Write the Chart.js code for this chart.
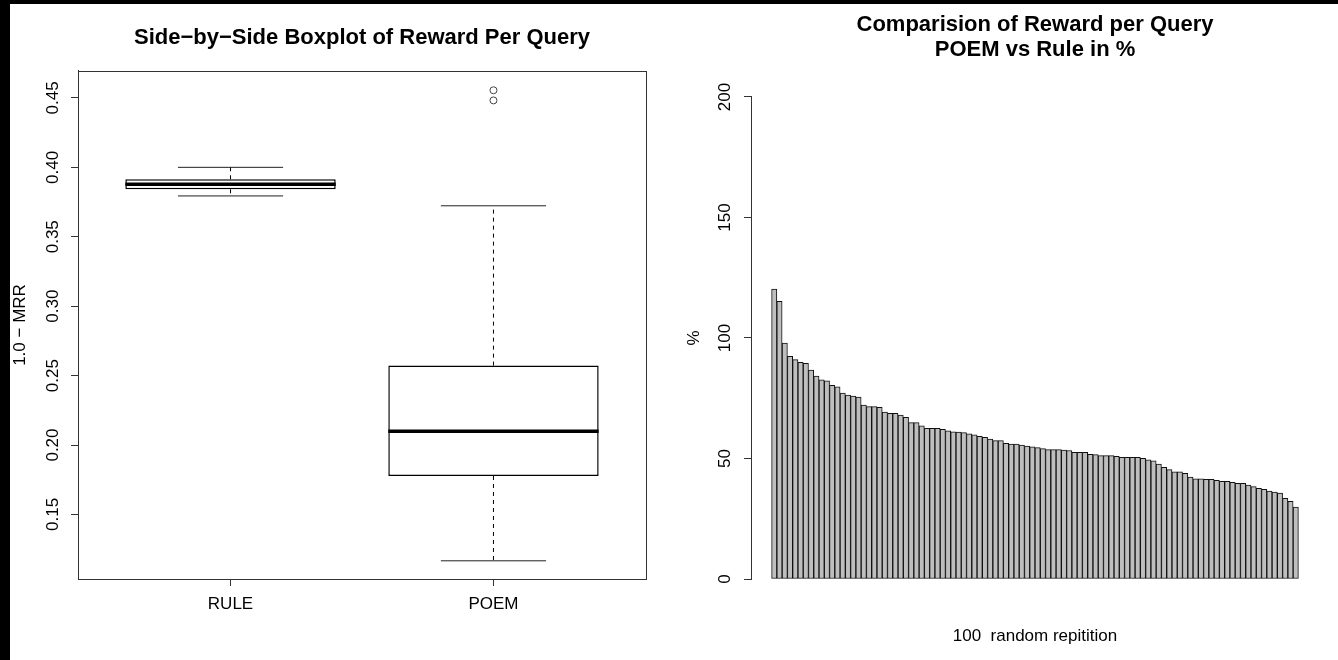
<!DOCTYPE html>
<html><head><meta charset="utf-8">
<script src="https://cdn.jsdelivr.net/npm/chart.js@4.4.0/dist/chart.umd.min.js"></script>
<style>
html,body{margin:0;padding:0;background:#000;width:1338px;height:660px;overflow:hidden}
#wrap{position:absolute;left:10px;top:4px;width:1328px;height:656px;background:#fff}
#c1{position:absolute;left:0;top:0}
#c2{position:absolute;left:659px;top:0}
</style></head><body>
<div id="wrap">
<canvas id="c1" width="659" height="656"></canvas>
<canvas id="c2" width="669" height="656"></canvas>
</div>
<script>
// ---------- Left panel: boxplot data ----------
const groups = ['RULE', 'POEM'];
const lowerWhisker = [0.3794, 0.1166];
const q1 = [0.3842, 0.1777];
const median = [0.3878, 0.2100];
const q3 = [0.3914, 0.2572];
const upperWhisker = [0.4000, 0.3723];
const outlierGroup = [2, 2];
const outlierValue = [0.4555, 0.4482];
const leftTicks = [0.15, 0.20, 0.25, 0.30, 0.35, 0.40, 0.45];
const leftTickLabels = ['0.15', '0.20', '0.25', '0.30', '0.35', '0.40', '0.45'];

// ---------- Right panel: bar data ----------
const repetitions = Array.from({length: 100}, (_, i) => i + 1);
const rewardPct = [
  120.3, 115.2, 97.9, 92.4, 91.0, 89.9, 89.5, 86.7, 84.2, 82.6,
  82.2, 80.4, 79.7, 77.1, 76.3, 75.9, 75.5, 72.2, 71.5, 71.5,
  71.2, 69.3, 68.7, 68.7, 68.0, 67.1, 64.9, 64.9, 63.5, 62.5,
  62.5, 62.5, 62.1, 61.5, 61.1, 61.0, 60.7, 60.2, 59.8, 59.2,
  58.8, 58.1, 57.4, 57.4, 56.3, 56.0, 56.0, 55.6, 55.2, 54.8,
  54.5, 54.1, 53.7, 53.7, 53.7, 53.5, 53.3, 52.6, 52.6, 52.6,
  51.7, 51.6, 51.2, 51.2, 51.2, 50.9, 50.5, 50.5, 50.5, 50.5,
  50.1, 49.4, 49.0, 47.7, 46.3, 45.4, 44.5, 44.5, 43.8, 42.3,
  41.6, 41.6, 41.4, 41.4, 40.9, 40.5, 40.5, 40.1, 39.7, 39.7,
  39.0, 38.3, 37.6, 37.2, 36.5, 36.1, 35.6, 33.5, 32.2, 29.8
];
const rightTicks = [0, 50, 100, 150, 200];
const rightTickLabels = ['0', '50', '100', '150', '200'];

// ---------- styling ----------
const FAMILY = "'Liberation Sans', Arial, Helvetica, sans-serif";
Chart.defaults.font.family = FAMILY;
Chart.defaults.color = '#000';
const tickFont = {family: FAMILY, size: 17};
const titleFont = {family: FAMILY, size: 22, weight: 'bold', lineHeight: 1.14};
const AXIS = '#333';
const BOXWEX = 0.8, STAPLEWEX = 0.5;

const framePlugin = {
  id: 'frame',
  afterDatasetsDraw(chart) {
    const {left, top, right, bottom} = chart.chartArea;
    const ctx = chart.ctx;
    ctx.save();
    ctx.strokeStyle = AXIS;
    ctx.lineWidth = 1;
    ctx.strokeRect(Math.round(left) + 0.5, Math.round(top) + 0.5,
                   Math.round(right - left), Math.round(bottom - top));
    ctx.restore();
  }
};

// build boxplot pieces from the stats arrays
const boxData = groups.map((g, i) => ({x: i + 1, y: [q1[i], q3[i]]}));
const medianData = [], whiskerData = [], stapleData = [];
groups.forEach((g, i) => {
  const c = i + 1;
  medianData.push({x: c - BOXWEX / 2, y: median[i]}, {x: c + BOXWEX / 2, y: median[i]}, {x: c, y: null});
  whiskerData.push({x: c, y: q3[i]}, {x: c, y: upperWhisker[i]}, {x: c, y: null},
                   {x: c, y: q1[i]}, {x: c, y: lowerWhisker[i]}, {x: c, y: null});
  const hs = BOXWEX * STAPLEWEX / 2;
  stapleData.push({x: c - hs, y: upperWhisker[i]}, {x: c + hs, y: upperWhisker[i]}, {x: c, y: null},
                  {x: c - hs, y: lowerWhisker[i]}, {x: c + hs, y: lowerWhisker[i]}, {x: c, y: null});
});
const outlierData = outlierValue.map((v, i) => ({x: outlierGroup[i], y: v}));

const lineBase = {type: 'line', pointRadius: 0, spanGaps: false, tension: 0, borderColor: '#000', fill: false};

new Chart(document.getElementById('c1'), {
  type: 'bar',
  data: {
    datasets: [
      Object.assign({}, lineBase, {label: 'median', data: medianData, borderWidth: 3.5, borderCapStyle: 'butt', order: 0}),
      Object.assign({}, lineBase, {label: 'whisker', data: whiskerData, borderWidth: 1, borderDash: [4, 4], order: 1}),
      Object.assign({}, lineBase, {label: 'staple', data: stapleData, borderWidth: 1, borderColor: '#222', order: 1}),
      {type: 'line', label: 'outliers', data: outlierData, showLine: false, pointRadius: 3.5,
       pointBackgroundColor: 'rgba(0,0,0,0)', pointBorderColor: '#444', pointBorderWidth: 1, order: 0},
      {type: 'bar', label: 'box', data: boxData, backgroundColor: '#fff', borderColor: '#000',
       borderWidth: 1.5, borderSkipped: false, barPercentage: 1, categoryPercentage: BOXWEX, order: 3}
    ]
  },
  options: {
    responsive: false, animation: false, events: [],
    layout: {padding: {left: 0, right: 23, top: 0, bottom: 0}},
    plugins: {
      legend: {display: false}, tooltip: {enabled: false},
      title: {display: true, fullSize: false, text: 'Side\u2212by\u2212Side Boxplot of Reward Per Query',
              font: titleFont, color: '#000', padding: {top: 21.5, bottom: 20.4}}
    },
    scales: {
      x: {
        type: 'linear', min: 0.42, max: 2.58, offset: false,
        afterBuildTicks: s => { s.ticks = groups.map((g, i) => ({value: i + 1})); },
        afterFit: s => { s.height = 81; },
        ticks: {callback: (v, i) => groups[i], padding: 7.8, font: tickFont, color: '#000', maxRotation: 0, autoSkip: false},
        grid: {drawOnChartArea: false, drawTicks: true, tickLength: 7, color: AXIS, offset: false},
        border: {display: true, color: AXIS}
      },
      y: {
        type: 'linear', min: 0.1035, max: 0.4694,
        afterBuildTicks: s => { s.ticks = leftTicks.map(v => ({value: v})); },
        afterFit: s => { s.width = 68; },
        ticks: {minRotation: 90, maxRotation: 90, crossAlign: 'center', padding: 1.5, autoSkip: false,
                font: tickFont, color: '#000', callback: (v, i) => leftTickLabels[i]},
        grid: {drawOnChartArea: false, drawTicks: true, tickLength: 7, color: AXIS},
        border: {display: true, color: AXIS},
        title: {display: true, text: '1.0 \u2212 MRR', font: tickFont, color: '#000', padding: {top: 0, bottom: 0}}
      }
    }
  },
  plugins: [framePlugin]
});

new Chart(document.getElementById('c2'), {
  type: 'bar',
  data: {
    labels: repetitions,
    datasets: [{
      label: 'reward', data: rewardPct, backgroundColor: '#BEBEBE', borderColor: '#111',
      borderWidth: 1, borderSkipped: false, barPercentage: 1, categoryPercentage: 1
    }]
  },
  options: {
    responsive: false, animation: false, events: [],
    layout: {padding: {left: 0, right: 19, top: 0, bottom: 0}},
    plugins: {
      legend: {display: false}, tooltip: {enabled: false},
      title: {display: true, fullSize: false, text: ['Comparision of Reward per Query', 'POEM vs Rule in %'],
              font: titleFont, color: '#000', padding: {top: 8.5, bottom: 34.3}}
    },
    scales: {
      x: {
        type: 'linear', min: -3.41, max: 104.41, offset: false,
        afterFit: s => { s.height = 81; },
        ticks: {display: false},
        grid: {display: false, offset: false},
        border: {display: false},
        title: {display: true, text: '100  random repitition', font: tickFont, color: '#000', padding: {top: 0, bottom: 13.8}}
      },
      y: {
        type: 'linear', min: 0, max: 200,
        afterBuildTicks: s => { s.ticks = rightTicks.map(v => ({value: v})); },
        afterFit: s => { s.width = 82; },
        ticks: {minRotation: 90, maxRotation: 90, crossAlign: 'center', padding: 4.8, autoSkip: false,
                font: tickFont, color: '#000', callback: (v, i) => rightTickLabels[i]},
        grid: {drawOnChartArea: false, drawTicks: true, tickLength: 7, color: AXIS},
        border: {display: true, color: AXIS},
        title: {display: true, text: '%', font: tickFont, color: '#000', padding: {top: 14.8, bottom: 0}}
      }
    }
  }
});
</script>
</body></html>
